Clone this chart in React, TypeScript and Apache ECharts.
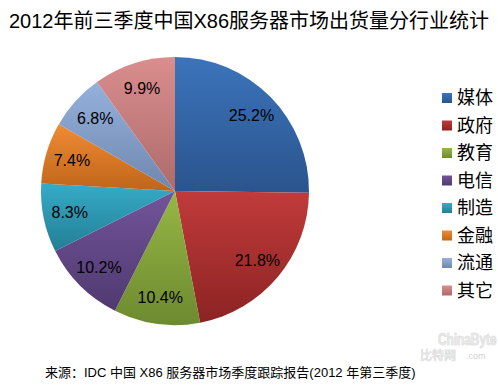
import React, { useEffect, useRef } from "react";
import * as echarts from "echarts";

const titleText = "2012年前三季度中国X86服务器市场出货量分行业统计";
const sourceText = "来源：IDC 中国 X86 服务器市场季度跟踪报告(2012 年第三季度)";
const categories = ["媒体", "政府", "教育", "电信", "制造", "金融", "流通", "其它"];
const values = [25.2, 21.8, 10.4, 10.2, 8.3, 7.4, 6.8, 9.9];
const colorTop = ["#3c74bb", "#c13b3b", "#96b746", "#73539b", "#36abc7", "#f08b32", "#95b1dc", "#da8e8e"];
const colorBottom = ["#2a548d", "#8c2323", "#6d8a2f", "#4f3a6f", "#237e95", "#bf651b", "#6f87ae", "#ae6a6a"];
const legendColors = ["#3566a6", "#b23030", "#86a63c", "#664a8c", "#2c9cb8", "#e57d27", "#829fcd", "#cd8080"];

const FONT = '"Liberation Sans", Arial, "Noto Sans CJK SC", sans-serif';

export default function App() {
  const ref = useRef<HTMLDivElement>(null);
  useEffect(() => {
    if (!ref.current) return;
    const chart = echarts.init(ref.current, undefined, { renderer: "svg" });
    const data = categories.map((name, i) => ({
      name,
      value: values[i],
      itemStyle: {
        color: new echarts.graphic.LinearGradient(0, 0, 0, 1, [
          { offset: 0, color: colorTop[i] },
          { offset: 1, color: colorBottom[i] },
        ]),
      },
    }));
    chart.setOption({
      animation: false,
      backgroundColor: "#ffffff",
      color: legendColors,
      title: {
        text: titleText,
        left: "center",
        top: 6,
        textStyle: { fontFamily: FONT, fontSize: 20, fontWeight: "normal", color: "#000" },
      },
      legend: {
        orient: "vertical",
        left: 437,
        top: 84,
        icon: "rect",
        itemWidth: 10,
        itemHeight: 10,
        itemGap: 9.5,
        data: categories,
        textStyle: { fontFamily: FONT, fontSize: 18, lineHeight: 18, color: "#000" },
      },
      graphic: [
        {
          type: "text",
          left: 45,
          top: 366,
          style: { text: sourceText, font: `13px ${FONT}`, fill: "#000" },
        },
        {
          type: "text",
          x: 438,
          y: 331,
          scaleX: 0.74,
          style: { text: "ChinaByte", font: `bold 16px ${FONT}`, fill: "#e6e6e6", stroke: "#c8c8c8", lineWidth: 0.6 },
        },
        {
          type: "text",
          x: 420,
          y: 350,
          style: { text: "比特网", font: `12px ${FONT}`, fill: "#e6e6e6", stroke: "#c8c8c8", lineWidth: 0.5 },
        },
        {
          type: "text",
          x: 466,
          y: 351,
          style: { text: ".com", font: `9px ${FONT}`, fill: "#cfcfcf" },
        },
      ],
      series: [
        {
          type: "pie",
          center: [175, 191],
          radius: [0, 134],
          startAngle: 90,
          clockwise: true,
          label: { show: false },
          labelLine: { show: false },
          data,
        },
        {
          type: "pie",
          center: [175, 191],
          radius: [75, 134],
          startAngle: 90,
          clockwise: true,
          silent: true,
          itemStyle: { color: "rgba(0,0,0,0)" },
          label: {
            show: true,
            position: "inside",
            formatter: (p: any) => p.value.toFixed(1) + "%",
            fontFamily: FONT,
            fontSize: 16,
            color: "#000",
          },
          labelLine: { show: false },
          data: categories.map((name, i) => ({ name, value: values[i] })),
        },
      ],
    });
    return () => chart.dispose();
  }, []);
  return <div ref={ref} style={{ position: "fixed", left: 0, top: 0, width: 498, height: 385 }} />;
}
